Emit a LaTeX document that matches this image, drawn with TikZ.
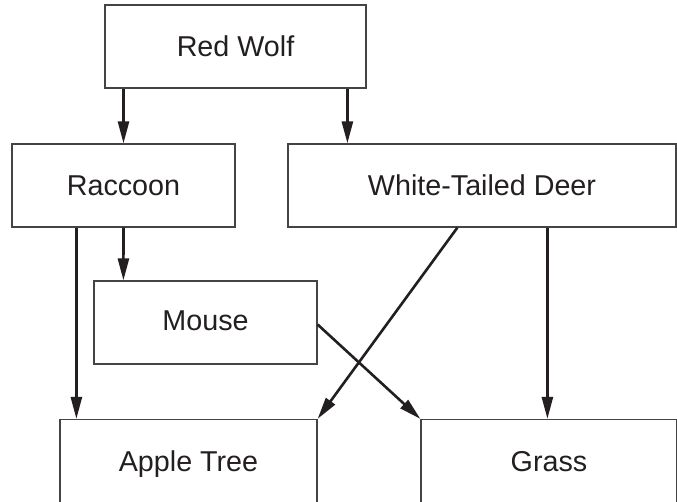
\documentclass[tikz,border=0pt]{standalone}
\usepackage{fontspec}
\setmainfont{Liberation Sans}
\usetikzlibrary{arrows.meta}

\definecolor{inkline}{HTML}{231F20}
\definecolor{boxline}{HTML}{444444}

\tikzset{
  taxon/.style={draw=boxline, line width=1.2pt, rectangle, inner sep=0pt,
    text=inkline, font=\fontsize{28.7pt}{34pt}\selectfont,
    text height=20.6pt, text depth=0pt},
  feeds/.style={draw=inkline, line width=2.6pt,
    -{Triangle[length=22pt,width=11pt]}}
}

\begin{document}
\begin{tikzpicture}[x=1pt,y=-1pt]
  \clip (0,0) rectangle (677,502);
  \fill[white] (0,0) rectangle (677,502);

  % organisms
  \node[taxon, minimum width=261pt, minimum height=83pt] (rw)    at (235.5,46.5) {Red Wolf};
  \node[taxon, minimum width=223pt, minimum height=83pt] (rac)   at (123.5,185.5) {Raccoon};
  \node[taxon, minimum width=388pt, minimum height=83pt] (wtd)   at (482,185.5) {White-Tailed Deer};
  \node[taxon, minimum width=223pt, minimum height=83pt, text depth=4pt] (mouse) at (205.5,322.5) {Mouse};
  \node[taxon, minimum width=257pt, minimum height=84pt] (apple) at (188.5,461.5) {Apple Tree};
  \node[taxon, minimum width=256pt, minimum height=84pt] (grass) at (549,461.5) {Grass};

  % who eats whom
  \draw[feeds] (rac.north |- rw.south) -- (rac.north);
  \draw[feeds] ([xshift=243pt]rw.south west) -- ([xshift=60pt]wtd.north west);
  \draw[feeds] ([xshift=65pt]rac.south west) -- ([xshift=17pt]apple.north west);
  \draw[feeds] (rac.south) -- ([xshift=30pt]mouse.north west);
  \draw[feeds] ([xshift=170pt]wtd.south west) -- (apple.north east);
  \draw[feeds] ([xshift=260pt]wtd.south west) -- ([xshift=127pt]grass.north west);
  \draw[feeds] ([yshift=-2pt]mouse.east) -- (grass.north west);
\end{tikzpicture}
\end{document}
